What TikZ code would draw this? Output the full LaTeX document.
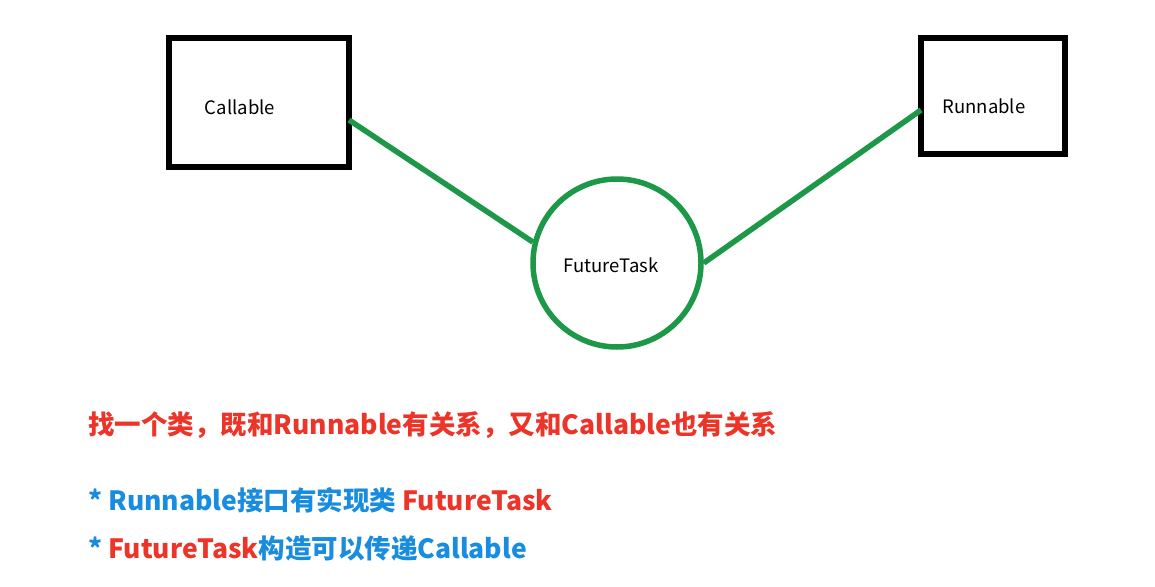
\documentclass[tikz,border=0pt]{standalone}
\usepackage{fontspec}
\setmainfont{Noto Sans CJK SC}
\newfontfamily\cjk{Noto Sans CJK SC}
\definecolor{lgreen}{RGB}{28,152,72}
\definecolor{tred}{RGB}{236,52,40}
\definecolor{tblue}{RGB}{24,140,222}
\begin{document}
\begin{tikzpicture}[x=1pt,y=-1pt,
  link/.style={draw=lgreen,line width=5.5pt},
  lbl/.style={font=\cjk\fontsize{18.5}{20}\selectfont,inner sep=0pt},
  big/.style={font=\cjk\bfseries\fontsize{26.5}{30}\selectfont,anchor=west,inner sep=0pt}]
\useasboundingbox[fill=white] (0,0) rectangle (1155,586);
\draw[line width=6.5pt] (169,38) rectangle (349,167);
\coordinate (cE) at (349,120);
\draw[line width=6.5pt] (921,38) rectangle (1065,154);
\coordinate (rW) at (921,110);
\node[circle,draw=lgreen,line width=5.5pt,minimum size=168pt,inner sep=0pt] (ft) at (617,263) {};
\node[lbl] (cl) at (240,107) {Callable};
\node[lbl] (rl) at (984,106) {Runnable};
\node[lbl] (fl) at (611,265) {FutureTask};
\draw[link] (cE) -- (ft.166);
\draw[link] (rW) -- (ft.0);
\node[big,text=tred] (t1) at (88,425) {找一个类，既和Runnable有关系，又和Callable也有关系};
\node[big] (t2) at (88,500) {\textcolor{tblue}{* Runnable接口有实现类} \textcolor{tred}{FutureTask}};
\node[big] (t3) at (88,548) {\textcolor{tblue}{*} \textcolor{tred}{FutureTask}\textcolor{tblue}{构造可以传递Callable}};
\end{tikzpicture}
\end{document}
